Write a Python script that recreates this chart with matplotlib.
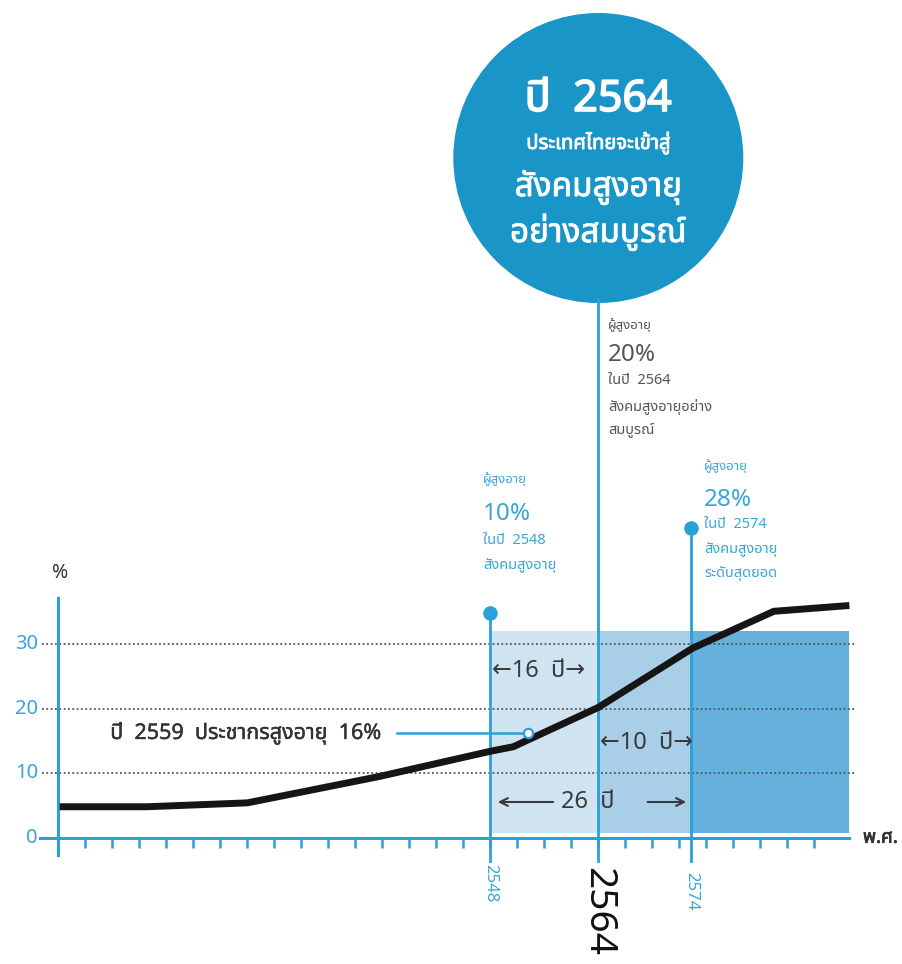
import matplotlib
matplotlib.use('Agg')
import matplotlib.pyplot as plt
import matplotlib.patheffects as pe
from matplotlib import font_manager
from matplotlib.ft2font import FT2Font
from matplotlib.patches import Ellipse, Rectangle

# ---------------- data ----------------
y_ticks = [0, 10, 20, 30]
tick_positions = list(range(1, 29))          # small ticks on the time axis
marker_years = ['2548', '2564', '2574']
marker_pos = [16, 20, 23.45]                 # where the milestones sit on the drawn axis
marker_pct = [10, 20, 28]
curve_pos = [0.05, 3.3, 7.0, 11.9, 16.0, 16.85, 20.0, 23.5, 26.5, 29.3]
curve_pct = [4.8, 4.8, 5.4, 9.5, 13.4, 14.1, 20.2, 29.4, 35.1, 36.0]
band_top = 32.0
band_end = 29.3
note_pos = 17.4
note_pct = 16.2

# ---------------- fonts ----------------
def thai_font():
    names = []
    for f in font_manager.fontManager.ttflist:
        try:
            cm = FT2Font(f.fname).get_charmap()
        except Exception:
            continue
        if 0x0E1B in cm and 0x0E35 in cm:
            names.append(f.name)
    pref = ['Noto Sans Thai', 'Noto Sans Thai UI', 'Sarabun', 'Kanit', 'Prompt',
            'Loma', 'Garuda', 'Waree', 'Tlwg Typo', 'Norasi']
    for p in pref:
        if p in names:
            return p
    return names[0] if names else None

tf = thai_font()
FAM = ([tf] if tf else []) + ['DejaVu Sans']
plt.rcParams['font.family'] = FAM

# ---------------- layout helpers ----------------
W, H = 902, 964
X0, XS = 58.3, 27.0
Y0, YS = 837.7, 6.45
def nx(px):
    return (px - X0) / XS
def vy(py):
    return (Y0 - py) / YS

BLUE = '#2aa1d6'
TXTBLUE = '#3aa6d8'
GRAY = '#555555'
DARK = '#333333'
C_LIGHT = '#cfe3f1'
C_MID = '#a8cee8'
C_DARK = '#65b0dc'
C_CIRCLE = '#1a95c7'

def bold(color, w=1.2):
    return [pe.withStroke(linewidth=w, foreground=color)]

fig = plt.figure(figsize=(W / 100, H / 100), dpi=100)
ax = fig.add_axes([0, 0, 1, 1])
ax.set_xlim(nx(0), nx(W))
ax.set_ylim(vy(H), vy(0))
ax.axis('off')

# shaded bands
edges = marker_pos + [band_end]
band_cols = [C_LIGHT, C_MID, C_DARK]
for i in range(3):
    ax.add_patch(Rectangle((edges[i], 0.7), edges[i + 1] - edges[i], band_top - 0.7,
                           facecolor=band_cols[i], edgecolor='none', zorder=1))

# dotted gridlines
for t in y_ticks[1:]:
    ax.plot([nx(42), nx(856)], [t, t], color='#555555', lw=1.3,
            linestyle=(0, (1, 1.4)), zorder=2)

# axes lines
ax.plot([0, 0], [vy(855), vy(598)], color=BLUE, lw=2.2, zorder=3)
ax.plot([nx(40), band_end], [0, 0], color=BLUE, lw=2.2, zorder=3)
ax.vlines(tick_positions, vy(848), 0, color=BLUE, lw=1.8, zorder=3)
for t in y_ticks:
    ax.text(nx(38), t, str(t), color=TXTBLUE, fontsize=14.5, ha='right', va='center')

# milestone vertical lines
tops = [vy(613), vy(300), vy(528)]
for p, tp in zip(marker_pos, tops):
    ax.plot([p, p], [vy(861), tp], color=BLUE, lw=2, zorder=4)
ax.scatter([marker_pos[0], marker_pos[2]], [tops[0], tops[2]], s=110, color=BLUE,
           zorder=5, linewidths=0)

# the curve
ax.plot(curve_pos, curve_pct, color='#151515', lw=5, solid_joinstyle='miter',
        solid_capstyle='butt', zorder=6)

# 2559 note
ax.plot([nx(397), note_pos - 0.2], [note_pct, note_pct], color=BLUE, lw=1.8, zorder=5)
ax.scatter([note_pos], [note_pct], s=45, facecolor='white', edgecolor=BLUE,
           linewidths=1.6, zorder=7)
ax.text(nx(381), note_pct, 'ปี  2559  ประชากรสูงอายุ  16%', color=DARK, fontsize=15.5,
        ha='right', va='center', fontweight='medium', path_effects=bold(DARK, 0.3))

# big circle
r = 145
ax.add_patch(Ellipse((marker_pos[1], vy(158)), 2 * r / XS, 2 * r / YS,
                     facecolor=C_CIRCLE, edgecolor='none', zorder=3))
cx = marker_pos[1]
ax.text(cx, vy(100), 'ปี  2564', color='white', fontsize=31, fontweight='bold',
        ha='center', va='center', zorder=8, path_effects=bold('white', 1.2))
ax.text(cx, vy(143), 'ประเทศไทยจะเข้าสู่', color='white', fontsize=14.5,
        fontweight='bold', ha='center', va='center', zorder=8,
        path_effects=bold('white', 0.6))
ax.text(cx, vy(187), 'สังคมสูงอายุ', color='white', fontsize=24,
        fontweight='medium', ha='center', va='center', zorder=8,
        path_effects=bold('white', 0.6))
ax.text(cx, vy(232), 'อย่างสมบูรณ์', color='white', fontsize=24,
        fontweight='medium', ha='center', va='center', zorder=8,
        path_effects=bold('white', 0.6))

# milestone annotations
def block(xp, lines, color):
    for txt, ypix, fs in lines:
        ax.text(nx(xp), vy(ypix), txt, color=color, fontsize=fs, ha='left',
                va='center', zorder=8)

block(608, [('ผู้สูงอายุ', 325, 9.5), ('%d%%' % marker_pct[1], 355, 17.5),
            ('ในปี  ' + marker_years[1], 381, 10.5), ('สังคมสูงอายุอย่าง', 407, 10.5),
            ('สมบูรณ์', 431, 10.5)], GRAY)
block(483, [('ผู้สูงอายุ', 479, 9.5), ('%d%%' % marker_pct[0], 514, 17.5),
            ('ในปี  ' + marker_years[0], 541, 10.5), ('สังคมสูงอายุ', 565, 10.5)], TXTBLUE)
block(704, [('ผู้สูงอายุ', 466, 9.5), ('%d%%' % marker_pct[2], 500, 17.5),
            ('ในปี  ' + marker_years[2], 524, 10.5), ('สังคมสูงอายุ', 549, 10.5),
            ('ระดับสุดยอด', 573, 10.5)], TXTBLUE)

# interval labels
ax.text(nx(492), vy(671), '←16  ปี→', color='#3a3a3a', fontsize=17, ha='left',
        va='center', zorder=8)
ax.text(nx(600), vy(743), '←10  ปี→', color='#3a3a3a', fontsize=17, ha='left',
        va='center', zorder=8)
ax.text(nx(588), vy(802), '26  ปี', color='#3a3a3a', fontsize=17, ha='center',
        va='center', zorder=8)
arr = dict(arrowstyle='->', color='#3a3a3a', lw=1.5, mutation_scale=14)
ax.annotate('', xy=(nx(495), vy(802)), xytext=(nx(556), vy(802)), arrowprops=arr, zorder=8)
ax.annotate('', xy=(nx(689), vy(802)), xytext=(nx(645), vy(802)), arrowprops=arr, zorder=8)

# axis titles
ax.text(nx(60), vy(573), '%', color=DARK, fontsize=14, fontweight='bold',
        ha='center', va='center')
ax.text(nx(863), 0, 'พ.ศ.', color=DARK, fontsize=13.5, fontweight='bold',
        ha='left', va='center', path_effects=bold(DARK, 0.6))

# rotated year labels
ax.text(marker_pos[0], vy(864), marker_years[0], color=TXTBLUE, fontsize=12,
        rotation=-90, ha='center', va='top')
ax.text(marker_pos[1], vy(867), marker_years[1], color='#111111', fontsize=28,
        rotation=-90, ha='center', va='top')
ax.text(marker_pos[2], vy(872), marker_years[2], color=TXTBLUE, fontsize=12,
        rotation=-90, ha='center', va='top')

fig.savefig('out.png', dpi=100, facecolor='white')
